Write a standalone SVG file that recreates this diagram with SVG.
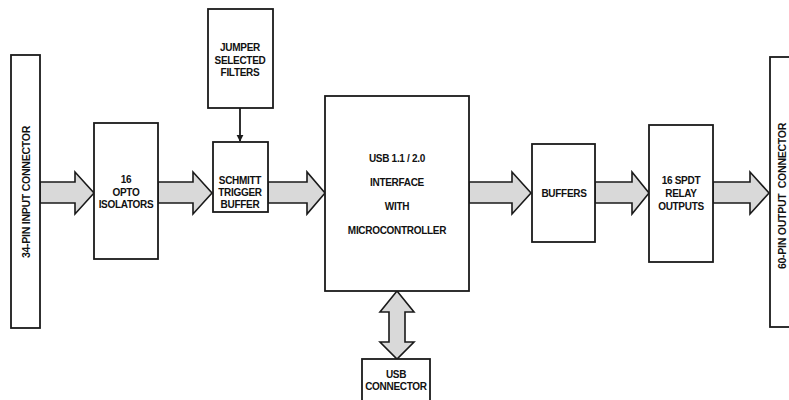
<svg xmlns="http://www.w3.org/2000/svg" width="789" height="400" viewBox="0 0 789 400">
<style>
.box{fill:#fff;stroke:#1a1a1a;stroke-width:1.8}
.arr{fill:#d9d9d9;stroke:#1a1a1a;stroke-width:1.6;stroke-linejoin:miter}
.t{font-family:"Liberation Sans",Arial,sans-serif;font-weight:bold;font-size:10px;fill:#111;text-anchor:middle;letter-spacing:-0.3px}
.ln{stroke:#1a1a1a;stroke-width:1.8;fill:none}
</style>
<defs>
<marker id="ah" viewBox="0 0 10 10" refX="9" refY="5" markerWidth="4" markerHeight="4" orient="auto"><path d="M0,0 L10,5 L0,10 z" fill="#1a1a1a"/></marker>
</defs>
<rect width="789" height="400" fill="#fff"/>
<g id="connectors">
<path class="arr" d="M40,182 H75 V172 L94,193 L75,214 V203 H40 Z"/>
<path class="arr" d="M158,182 H193 V172 L212,193 L193,214 V203 H158 Z"/>
<path class="arr" d="M268,182 H307 V172 L325,193 L307,214 V203 H268 Z"/>
<path class="arr" d="M469,182 H512 V172 L531,193 L512,214 V203 H469 Z"/>
<path class="arr" d="M595,182 H632 V172 L649,193 L632,214 V203 H595 Z"/>
<path class="arr" d="M713,182 H750 V172 L769,193 L750,214 V203 H713 Z"/>
<path class="arr" d="M397,291 L414,312 H405 V342 H414 L397,359 L380,342 H389 V312 H380 Z"/>
<line class="ln" x1="240" y1="108" x2="240" y2="141" marker-end="url(#ah)"/>
</g>
<g id="input-connector">
<rect class="box" x="11" y="55" width="29" height="273"/>
<text class="t" transform="translate(30,192) rotate(-90)" style="font-size:10.6px">34-PIN INPUT CONNECTOR</text>
</g>
<g id="opto">
<rect class="box" x="94" y="123" width="64" height="136"/>
<text class="t" x="126" y="183">16</text>
<text class="t" x="126" y="196">OPTO</text>
<text class="t" x="126" y="208">ISOLATORS</text>
</g>
<g id="jumper">
<rect class="box" x="208" y="9" width="65" height="99"/>
<text class="t" x="240" y="51">JUMPER</text>
<text class="t" x="240" y="64">SELECTED</text>
<text class="t" x="240" y="76">FILTERS</text>
</g>
<g id="schmitt">
<rect class="box" x="213" y="142" width="55" height="70"/>
<text class="t" x="240" y="184">SCHMITT</text>
<text class="t" x="240" y="196">TRIGGER</text>
<text class="t" x="240" y="208">BUFFER</text>
</g>
<g id="mcu">
<rect class="box" x="325" y="96" width="144" height="195"/>
<text class="t" x="397" y="162">USB 1.1 / 2.0</text>
<text class="t" x="397" y="186">INTERFACE</text>
<text class="t" x="397" y="210">WITH</text>
<text class="t" x="397" y="234">MICROCONTROLLER</text>
</g>
<g id="buffers">
<rect class="box" x="532" y="144" width="63" height="98"/>
<text class="t" x="564" y="197">BUFFERS</text>
</g>
<g id="relay">
<rect class="box" x="649" y="125" width="64" height="137"/>
<text class="t" x="681" y="184">16 SPDT</text>
<text class="t" x="681" y="197">RELAY</text>
<text class="t" x="681" y="210">OUTPUTS</text>
</g>
<g id="output-connector">
<rect class="box" x="770" y="57" width="30" height="270"/>
<text class="t" transform="translate(786,196) rotate(-90)" style="font-size:10.6px;white-space:pre">60-PIN OUTPUT  CONNECTOR</text>
</g>
<g id="usb-connector">
<rect class="box" x="362" y="359" width="68" height="45"/>
<text class="t" x="396" y="378">USB</text>
<text class="t" x="396" y="390">CONNECTOR</text>
</g>
</svg>
